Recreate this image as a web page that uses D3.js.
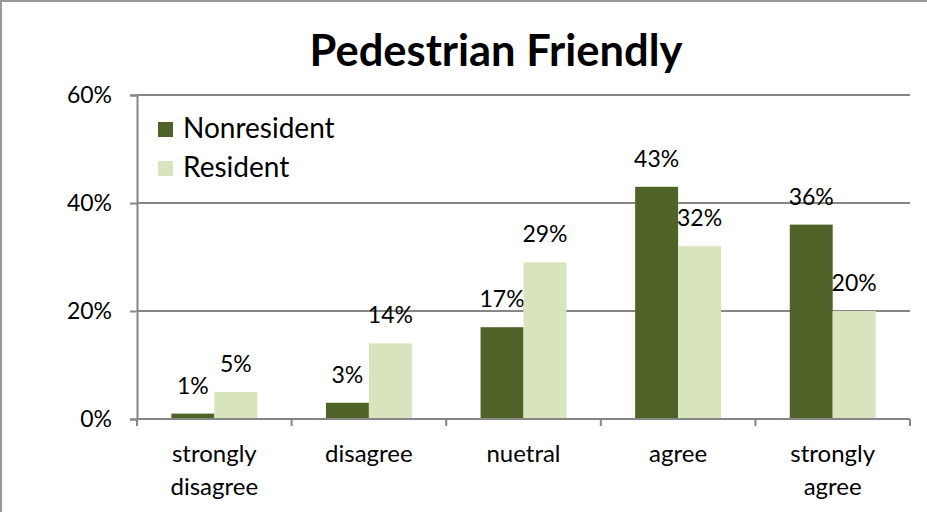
<!DOCTYPE html>
<html><head><meta charset="utf-8">
<script src="https://cdn.jsdelivr.net/npm/d3@7"></script>
<style>body{margin:0;background:#fff}svg{display:block}text{font-family:Lato,"Open Sans",sans-serif}</style>
</head><body><svg id="c" width="927" height="512"></svg>
<script>
const categories = [["strongly","disagree"],["disagree"],["nuetral"],["agree"],["strongly","agree"]];
const seriesNames = ["Nonresident","Resident"];
const nonresident = [1,3,17,43,36];
const resident = [5,14,29,32,20];
const yTicks = [0,20,40,60];
const colors = ["#4f6228","#d7e4bd"];

const svg = d3.select("#c");
const W=927,H=512;
const m={left:137,right:910,top:95,bottom:419};
svg.append("line").attr("x1",0.5).attr("x2",W).attr("y1",1).attr("y2",1).attr("stroke","#999").attr("stroke-width",2);
svg.append("line").attr("x1",1).attr("x2",1).attr("y1",0).attr("y2",H).attr("stroke","#999").attr("stroke-width",2);

const x = d3.scaleBand().domain(d3.range(categories.length)).range([m.left,m.right]);
const xi = d3.scaleBand().domain(seriesNames).range([0,x.bandwidth()]).paddingInner(0).paddingOuter(0.8);
const y = d3.scaleLinear().domain([0,60]).range([m.bottom,m.top]);

const ga = svg.append("g").attr("transform",`translate(${m.left},0)`)
  .call(d3.axisLeft(y).tickValues(yTicks).tickFormat(d=>d+"%").tickSize(7).tickPadding(18));
ga.select(".domain").attr("stroke","#868686").attr("stroke-width",2);
ga.selectAll(".tick line").attr("stroke","#868686").attr("stroke-width",2);
ga.selectAll(".tick text").attr("font-size",23).attr("fill","#000").style("font-family","Lato");
svg.append("g").selectAll("line").data(yTicks.filter(d=>d>0)).join("line")
  .attr("x1",m.left).attr("x2",m.right).attr("y1",d=>y(d)).attr("y2",d=>y(d))
  .attr("stroke","#868686").attr("stroke-width",2);

const series=[nonresident,resident];
series.forEach((vals,si)=>{
  const g=svg.append("g");
  g.selectAll("rect").data(vals).join("rect")
    .attr("x",(d,i)=>x(i)+xi(seriesNames[si])).attr("width",xi.bandwidth())
    .attr("y",d=>y(d)).attr("height",d=>y(0)-y(d)).attr("fill",colors[si]);
  g.selectAll("text").data(vals).join("text")
    .attr("x",(d,i)=>x(i)+xi(seriesNames[si])+xi.bandwidth()/2)
    .attr("y",d=>y(d)-20).attr("text-anchor","middle").attr("font-size",23).attr("fill","#000")
    .text(d=>d+"%");
});

const gx=svg.append("g").attr("transform",`translate(0,${m.bottom})`);
gx.append("line").attr("x1",m.left).attr("x2",m.right).attr("stroke","#868686").attr("stroke-width",2);
gx.selectAll(".t").data(d3.range(categories.length+1)).join("line").attr("class","t")
  .attr("x1",i=>i<categories.length?x(i):m.right).attr("x2",i=>i<categories.length?x(i):m.right)
  .attr("y1",0).attr("y2",7).attr("stroke","#868686").attr("stroke-width",2);
categories.forEach((lines,i)=>{
  const t=gx.append("text").attr("text-anchor","middle").attr("font-size",24).attr("fill","#000");
  lines.forEach((l,k)=>t.append("tspan").attr("x",x(i)+x.bandwidth()/2).attr("y",43+k*33).text(l));
});

const lg=svg.append("g");
seriesNames.forEach((n,i)=>{
  lg.append("rect").attr("x",158).attr("y",122+i*39).attr("width",15).attr("height",15).attr("fill",colors[i]);
  lg.append("text").attr("x",183).attr("y",138+i*39).attr("font-size",28).attr("fill","#000").text(n);
});

const title=svg.append("text").attr("x",496).attr("y",66).attr("text-anchor","middle")
  .attr("font-size",40).attr("font-weight","bold").attr("fill","#000").text("Pedestrian Friendly");
const tw=title.node().getComputedTextLength();
title.attr("font-size",40*373/tw);
</script></body></html>
